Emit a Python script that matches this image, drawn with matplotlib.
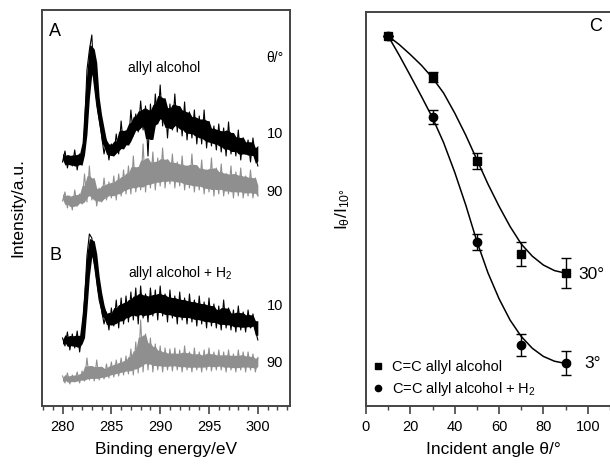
import numpy as np
import pandas as pd
import matplotlib
matplotlib.use("Agg")
import matplotlib.pyplot as plt
from matplotlib.ticker import MultipleLocator
from matplotlib.lines import Line2D

plt.rcParams['font.family'] = ['Liberation Sans', 'DejaVu Sans']
plt.rcParams['mathtext.default'] = 'regular'

# ----------------------------------------------------------
# DATA
# ----------------------------------------------------------
# binding energy grid for the C 1s spectra (0.25 eV steps, 280..300 eV)
energy = np.arange(280.0, 300.01, 0.25)

# panel A, allyl alcohol (heights in a.u.)
a_10 = [244, 255, 238, 250, 240, 256, 236, 252, 244, 276, 336, 356, 371, 321,
        301, 286, 271, 252, 266, 246, 262, 250, 272, 252, 285, 258, 270, 262,
        296, 270, 292, 274, 305, 276, 300, 250, 302, 272, 312, 282, 321, 280,
        304, 268, 302, 276, 312, 274, 298, 270, 304, 266, 294, 268, 296, 262,
        290, 262, 296, 258, 284, 260, 280, 256, 282, 254, 278, 250, 284, 252,
        270, 250, 276, 246, 268, 252, 266, 244, 268, 250, 240]
a_90 = [205, 214, 198, 210, 196, 216, 200, 212, 202, 232, 204, 240, 206, 222,
        200, 218, 204, 228, 206, 224, 208, 230, 206, 232, 210, 236, 212, 240,
        212, 250, 214, 238, 216, 262, 214, 246, 218, 254, 216, 248, 220, 258,
        218, 246, 222, 252, 218, 244, 220, 250, 216, 240, 218, 252, 214, 240,
        216, 246, 212, 236, 214, 248, 210, 238, 212, 242, 210, 232, 212, 240,
        208, 234, 210, 238, 208, 230, 210, 236, 208, 228, 210]

# panel B, allyl alcohol + H2
b_10 = [68, 60, 74, 56, 72, 58, 75, 54, 72, 105, 150, 172, 168, 142, 124, 106,
        96, 82, 94, 76, 98, 80, 106, 78, 108, 82, 110, 84, 114, 86, 118, 82,
        120, 88, 112, 84, 118, 90, 116, 86, 120, 90, 112, 84, 116, 88, 110, 82,
        114, 86, 108, 82, 112, 84, 106, 80, 110, 82, 104, 78, 108, 80, 102, 78,
        100, 76, 106, 78, 98, 76, 96, 74, 100, 76, 94, 74, 96, 78, 92, 76, 66]
b_90 = [30, 23, 33, 22, 31, 24, 34, 23, 35, 25, 48, 26, 37, 25, 46, 26, 38,
        27, 42, 28, 44, 29, 46, 30, 48, 31, 50, 32, 57, 31, 64, 33, 86, 34, 72,
        36, 68, 34, 62, 36, 60, 34, 58, 36, 57, 35, 58, 36, 56, 34, 60, 36, 54,
        34, 58, 36, 54, 34, 56, 36, 58, 35, 54, 36, 56, 36, 54, 34, 56, 36, 52,
        34, 56, 36, 54, 34, 54, 36, 52, 34, 48]

# panel C, angular dependence of the C=C intensity
angle = [10, 30, 50, 70, 90]
ratio_aa = [1.0, 0.889, 0.662, 0.411, 0.359]
err_aa = [0.0, 0.014, 0.022, 0.032, 0.041]
ratio_h2 = [1.0, 0.781, 0.443, 0.165, 0.116]
err_h2 = [0.0, 0.019, 0.022, 0.030, 0.032]

# fitted curves
fit_angle = [10, 15, 20, 25, 30, 35, 40, 45, 50, 55, 60, 65, 70, 75, 80, 85, 90]
fit_aa = [1.0, 0.977, 0.950, 0.921, 0.887, 0.846, 0.792, 0.732, 0.666, 0.600,
          0.540, 0.485, 0.438, 0.405, 0.381, 0.366, 0.359]
fit_h2 = [1.0, 0.948, 0.893, 0.837, 0.779, 0.712, 0.632, 0.543, 0.445, 0.360,
          0.290, 0.232, 0.188, 0.156, 0.134, 0.121, 0.115]

# ----------------------------------------------------------
# FIGURE
# ----------------------------------------------------------
fig = plt.figure(figsize=(6.10, 4.66), dpi=100)
spine_col = "#444444"
gray = "#8f8f8f"


def noisy_trace(ax, x, y, color):
    # dense core of the noisy band + the trace itself for the spikes
    s = pd.Series(y, dtype=float)
    roll = s.rolling(4, center=True, min_periods=1)
    mid = roll.mean().values
    half = 0.28 * (roll.max() - roll.min()).values
    ax.fill_between(x, mid - half, mid + half, color=color, lw=0)
    ax.plot(x, y, color=color, lw=0.8)


ax1 = fig.add_axes([0.0689, 0.1288, 0.4066, 0.8498])
noisy_trace(ax1, energy, a_90, gray)
noisy_trace(ax1, energy, a_10, "black")
noisy_trace(ax1, energy, b_90, gray)
noisy_trace(ax1, energy, b_10, "black")
ax1.set_xlim(277.9, 303.3)
ax1.set_ylim(0, 396)
ax1.set_yticks([])
ax1.xaxis.set_major_locator(MultipleLocator(5))
ax1.xaxis.set_minor_locator(MultipleLocator(1))
ax1.set_xlabel("Binding energy/eV", fontsize=12.5, labelpad=6)
ax1.set_ylabel("Intensity/a.u.", fontsize=12.5, labelpad=12)

ax1.text(278.65, 374, "A", fontsize=13, va="center")
ax1.text(286.7, 338, "allyl alcohol", fontsize=10, va="center")
ax1.text(300.9, 348, "θ/°", fontsize=10, va="center")
ax1.text(300.9, 272, "10", fontsize=10.5, va="center")
ax1.text(300.9, 214, "90", fontsize=10.5, va="center")
ax1.text(278.65, 150, "B", fontsize=13, va="center")
ax1.text(286.7, 133, "allyl alcohol + H$_2$", fontsize=10, va="center")
ax1.text(300.9, 100, "10", fontsize=10.5, va="center")
ax1.text(300.9, 43, "90", fontsize=10.5, va="center")

ax2 = fig.add_axes([0.6, 0.1288, 0.4180, 0.8454])
ax2.plot(fit_angle, fit_aa, color="black", lw=1.1)
ax2.plot(fit_angle, fit_h2, color="black", lw=1.1)
ax2.errorbar(angle, ratio_aa, yerr=err_aa, fmt="s", color="black", ms=6,
             capsize=3.5, elinewidth=1, capthick=1)
ax2.errorbar(angle, ratio_h2, yerr=err_h2, fmt="o", color="black", ms=6,
             capsize=3.5, elinewidth=1, capthick=1)
ax2.set_xlim(0, 115)
ax2.set_ylim(0, 1.065)
ax2.set_yticks([])
ax2.xaxis.set_major_locator(MultipleLocator(20))
ax2.xaxis.set_minor_locator(MultipleLocator(10))
ax2.set_xlabel("Incident angle θ/°", fontsize=12.5, labelpad=6)
ax2.set_ylabel("I$_θ$/I$_{10°}$", fontsize=12.5, labelpad=10)
ax2.text(100.5, 1.025, "C", fontsize=13, va="center")
ax2.text(96, 0.355, "30°", fontsize=12.5, va="center")
ax2.text(98.5, 0.115, "3°", fontsize=12.5, va="center")

handles = [Line2D([], [], ls="none", marker="s", color="black", ms=4.5),
           Line2D([], [], ls="none", marker="o", color="black", ms=4.5)]
labels = ["C=C allyl alcohol", "C=C allyl alcohol + H$_2$"]
ax2.legend(handles, labels, loc="lower left", bbox_to_anchor=(0.0, 0.0),
           frameon=False, fontsize=10.5, handlelength=0.6,
           handletextpad=0.6, labelspacing=0.4, borderaxespad=0.15)

for ax in (ax1, ax2):
    for s in ax.spines.values():
        s.set_color(spine_col)
        s.set_linewidth(1.4)
    ax.tick_params(axis="x", which="major", direction="out", length=6,
                   width=1.2, color=spine_col, labelsize=10.5, pad=4)
    ax.tick_params(axis="x", which="minor", direction="out", length=3,
                   width=1.0, color=spine_col)
    ax.tick_params(axis="x", top=False)

fig.savefig("out.png", dpi=100)
